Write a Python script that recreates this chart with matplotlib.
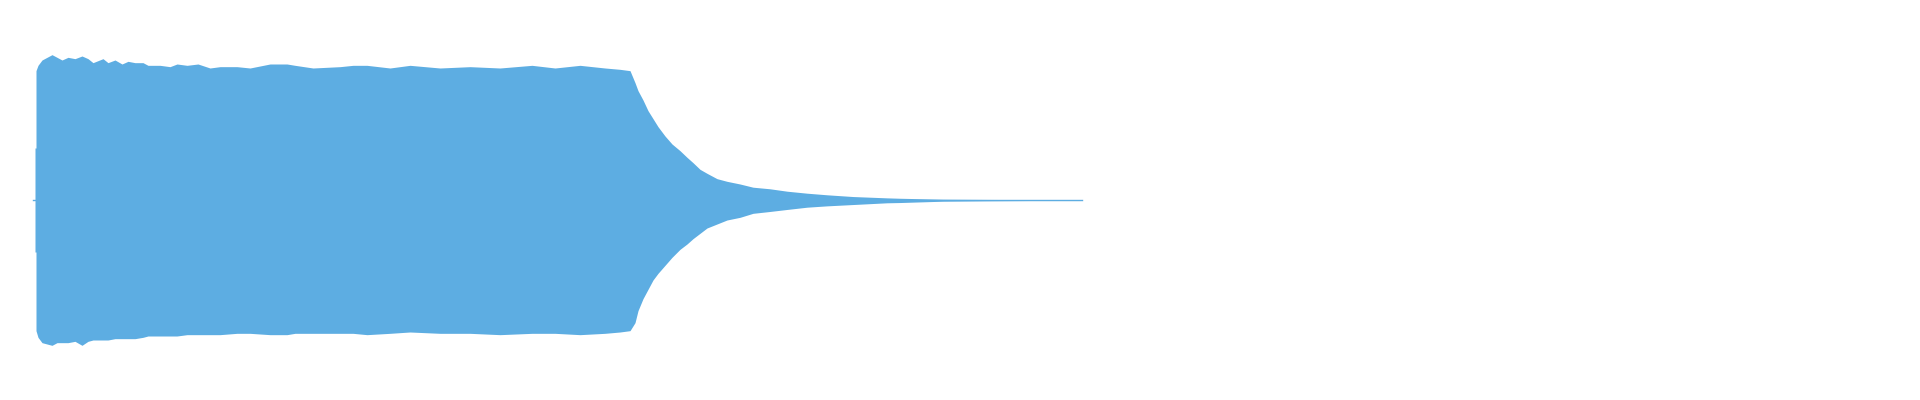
import matplotlib.pyplot as plt

# waveform envelope (time in px columns, amplitude +/-)
t = [33, 35, 35, 36, 36, 38, 42, 47, 52, 57, 62, 68, 75, 82, 88, 93, 103, 108, 115, 122,
     128, 135, 143, 148, 160, 170, 177, 187, 198, 210, 220, 237, 250, 270, 287,
     295, 313, 340, 353, 367, 390, 410, 440, 470, 500, 532, 555, 580, 605, 620,
     630, 635, 638, 643, 648, 653, 658, 665, 672, 680, 687, 693, 700, 707, 717,
     727, 740, 753, 770, 787, 807, 827, 853, 887, 900, 943, 987, 1030, 1080, 1082]

top = [0.0, 0.0, 0.39, 0.39, 0.97, 1.01, 1.05, 1.07, 1.09, 1.07, 1.05, 1.07, 1.06, 1.08,
       1.06, 1.03, 1.06, 1.03, 1.05, 1.02, 1.04, 1.03, 1.03, 1.01, 1.01, 1.00,
       1.02, 1.01, 1.02, 0.99, 1.00, 1.00, 0.99, 1.02, 1.02, 1.01, 0.99, 1.00,
       1.01, 1.01, 0.99, 1.01, 0.99, 1.00, 0.99, 1.01, 0.99, 1.01, 0.99, 0.98,
       0.97, 0.88, 0.82, 0.75, 0.67, 0.61, 0.55, 0.48, 0.42, 0.37, 0.32, 0.28,
       0.23, 0.20, 0.16, 0.14, 0.12, 0.096, 0.084, 0.066, 0.051, 0.039, 0.026,
       0.016, 0.013, 0.006, 0.004, 0.003, 0.003, 0.0]

bottom = [0.0, 0.0, 0.39, 0.39, 0.98, 1.03, 1.07, 1.08, 1.09, 1.07, 1.07, 1.07, 1.06, 1.09,
          1.06, 1.05, 1.05, 1.05, 1.04, 1.04, 1.04, 1.04, 1.03, 1.02, 1.02, 1.02,
          1.02, 1.01, 1.01, 1.01, 1.01, 1.00, 1.00, 1.01, 1.01, 1.00, 1.00, 1.00,
          1.00, 1.01, 1.00, 0.99, 1.00, 1.00, 1.01, 1.00, 1.00, 1.01, 1.00, 0.99,
          0.98, 0.92, 0.83, 0.74, 0.67, 0.60, 0.55, 0.49, 0.43, 0.37, 0.33, 0.29,
          0.25, 0.21, 0.18, 0.15, 0.13, 0.10, 0.086, 0.071, 0.054, 0.044, 0.034,
          0.021, 0.019, 0.009, 0.006, 0.004, 0.004, 0.0]

color = '#5DADE2'

fig = plt.figure(figsize=(19.2, 4), dpi=100)
ax = fig.add_axes([0, 0, 1, 1])

ax.fill_between(t, [-b for b in bottom], top, color=color, linewidth=0)
ax.plot([t[0], t[-1]], [0, 0], color=color, linewidth=1)

ax.set_xlim(0, 1920)
ax.set_ylim(-1.5, 1.5)
ax.axis('off')

fig.savefig('out.png', dpi=100)
